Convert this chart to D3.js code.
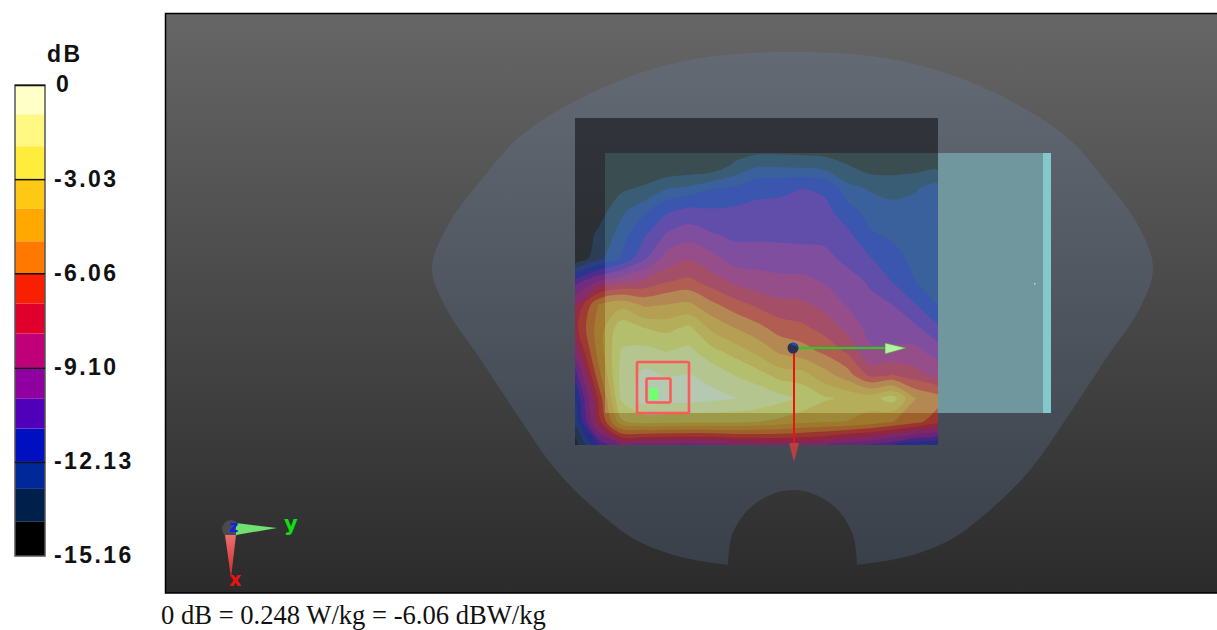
<!DOCTYPE html>
<html>
<head>
<meta charset="utf-8">
<script src="https://cdn.jsdelivr.net/npm/d3@7"></script>
<style>
  html, body { margin: 0; padding: 0; background: #fff; overflow: hidden; }
  .scale text { font: bold 23px "Liberation Sans", sans-serif; letter-spacing: 2.4px; fill: #111; }
</style>
</head>
<body>
<div id="chart"></div>
<script>
// colour bar
const bandEdges = [-16, -14.06, -13, -12.13, -11.06, -10.1, -9.1, -8, -7.03, -6.06, -5.03, -3.97, -3.03, -1.97, -0.94];
const bandColors = ['#000000', '#00204c', '#002898', '#0010c0', '#5000b8', '#9000a0', '#c00078', '#e0002c',
                    '#f82000', '#ff7800', '#ffa800', '#ffc814', '#ffec3c', '#fff882', '#ffffc8'];
const scaleTicks = [0, -3.03, -6.06, -9.10, -12.13, -15.16];
const scaleLabels = ['0', '-3.03', '-6.06', '-9.10', '-12.13', '-15.16'];

// field in dB, one row per scan line, top to bottom
const fieldCols = 17;
const fieldRows = 15;
const fieldDb = [
  -15.16,-15.16,-15.16,-15.16,-15.16,-15.16,-15.16,-15.16,-15.16,-15.16,-15.16,-15.16,-15.16,-15.16,-15.16,-15.16,-15.16,
  -15.16,-15.16,-15.16,-15.16,-15.16,-15.16,-15.16,-15.16,-15.16,-15.16,-15.16,-15.16,-15.16,-15.16,-15.16,-15.16,-15.16,
  -15.16,-15.16,-15.16,-15.16,-15.16,-15.00,-15.00,-13.90,-13.20,-13.20,-13.30,-13.50,-14.06,-14.70,-14.60,-14.60,-14.50,
  -15.16,-15.16,-14.30,-13.90,-13.10,-12.80,-12.20,-12.00,-11.40,-11.30,-11.06,-11.30,-12.70,-13.10,-13.40,-13.10,-12.60,
  -15.16,-14.60,-13.20,-12.30,-11.20,-10.70,-10.90,-10.80,-10.70,-10.70,-10.60,-10.70,-11.70,-12.50,-12.60,-12.60,-12.10,
  -15.16,-13.80,-12.60,-11.20,-10.00, -9.60,-10.00,-10.30,-10.30,-10.30,-10.30,-10.30,-10.80,-12.00,-12.30,-12.50,-12.50,
  -15.00,-13.30,-12.00,-10.30, -8.70, -8.10, -8.80, -9.60, -9.60, -9.70, -9.80, -9.90,-10.30,-11.00,-11.80,-12.40,-12.60,
  -10.50, -9.00, -8.30, -7.80, -7.10, -6.80, -7.50, -8.20, -8.60, -8.80, -8.80, -9.20, -9.80,-10.20,-11.10,-12.13,-12.50,
   -8.00, -5.00, -4.30, -5.20, -5.00, -4.80, -5.80, -6.60, -7.20, -7.70, -7.80, -8.30, -9.20, -9.90,-10.10,-11.00,-12.15,
   -7.30, -4.50, -2.40, -3.00, -3.30, -2.80, -4.20, -5.00, -5.70, -6.50, -6.80, -7.40, -8.30, -9.50, -9.60, -9.90,-10.80,
   -8.50, -4.60, -1.90, -1.60, -2.00, -1.70, -2.70, -3.40, -4.20, -5.20, -5.60, -6.30, -7.20, -8.90, -8.90, -8.80, -9.60,
  -10.50, -5.40, -1.60, -0.70, -1.00, -0.90, -1.20, -2.00, -2.60, -3.40, -3.60, -4.60, -5.60, -7.30, -7.00, -7.60, -8.40,
  -12.00, -6.80, -1.80, -0.40, -0.50, -0.50, -0.70, -0.90, -1.10, -1.60, -2.20, -2.90, -3.20, -3.40, -2.60, -5.00, -5.60,
  -12.60, -7.50, -3.20, -2.60, -2.70, -2.80, -2.80, -2.80, -3.00, -3.30, -3.70, -3.90, -4.00, -4.40, -5.00, -5.70, -6.70,
  -14.50,-11.00, -9.00, -9.30, -9.40, -9.50, -9.30, -9.00, -8.80, -8.60, -8.70, -9.00, -9.80,-10.20,-11.00,-12.00,-12.50
];

// phantom outline and hollow in page pixels
const outlineX = [857,905,950,990,1030,1070,1105,1140,1153,1138,1105,1070,1027,960,885,793,700,626,559,516,481,448,432,446,481,516,556,596,636,681,728];
const outlineY = [565,557,540,510,470,413,360,308,268,225,180,140,110,78,58,52,58,78,110,140,180,225,268,308,360,413,470,510,540,557,565];
const notchX = [728,732,750,775,793,811,836,853,857];
const notchY = [565,535,508,493,490,493,508,535,565];

const width = 1217, height = 630;
const plot = {left: 166, top: 14, right: 1217, bottom: 593};
const bar = {left: 15, right: 45, top: 85, bottom: 556};
const field = {left: 576, right: 938, top: 118, bottom: 445};

const svg = d3.select('#chart').append('svg').attr('width', width).attr('height', height).style('display', 'block');
const defs = svg.append('defs');

const bg = defs.append('linearGradient').attr('id', 'bg').attr('x1', 0).attr('y1', 0).attr('x2', 0).attr('y2', 1);
bg.append('stop').attr('offset', 0).attr('stop-color', '#666666');
bg.append('stop').attr('offset', 1).attr('stop-color', '#2b2b2b');

const redCone = defs.append('linearGradient').attr('id', 'red-cone').attr('x1', 0).attr('y1', 0).attr('x2', 0).attr('y2', 1);
redCone.append('stop').attr('offset', 0).attr('stop-color', '#e87070');
redCone.append('stop').attr('offset', 1).attr('stop-color', '#d02828');

defs.append('clipPath').attr('id', 'field-clip').append('rect')
    .attr('x', field.left - 1).attr('y', field.top)
    .attr('width', field.right - field.left + 1).attr('height', field.bottom - field.top);
defs.append('clipPath').attr('id', 'plot-clip').append('rect')
    .attr('x', plot.left).attr('y', plot.top)
    .attr('width', plot.right - plot.left).attr('height', plot.bottom - plot.top);

// colour bar
const yBar = d3.scaleLinear().domain([0, -15.16]).range([bar.top, bar.bottom]);
const scale = svg.append('g').attr('class', 'scale');

scale.selectAll('rect.band').data(bandColors).join('rect')
    .attr('class', 'band')
    .attr('x', bar.left).attr('width', bar.right - bar.left)
    .attr('y', (d, i) => i === bandEdges.length - 1 ? yBar(0) : yBar(bandEdges[i + 1]))
    .attr('height', (d, i) => {
      const hi = i === bandEdges.length - 1 ? 0 : bandEdges[i + 1];
      return yBar(Math.max(bandEdges[i], -15.16)) - yBar(hi);
    })
    .attr('fill', d => d);

scale.append('rect')
    .attr('x', bar.left).attr('y', bar.top)
    .attr('width', bar.right - bar.left).attr('height', bar.bottom - bar.top)
    .attr('fill', 'none').attr('stroke', '#555').attr('stroke-width', 1.5);

const barAxis = d3.axisRight(yBar)
    .tickValues(scaleTicks)
    .tickFormat((d, i) => scaleLabels[i])
    .tickSizeInner(-(bar.right - bar.left))
    .tickSizeOuter(0)
    .tickPadding(9);

const barAxisG = scale.append('g').attr('transform', 'translate(' + bar.right + ',0)').call(barAxis);
barAxisG.select('.domain').remove();
barAxisG.selectAll('line').attr('stroke', '#111').attr('stroke-width', 1.5);
barAxisG.selectAll('text').attr('dy', '0.3em');
barAxisG.selectAll('.tick').filter(d => d === 0).select('text').attr('x', 11);
barAxisG.selectAll('.tick').filter(d => d === -15.16).select('line').remove();

scale.append('text').attr('x', 47).attr('y', 62).text('dB');

// scene
const scene = svg.append('g').attr('clip-path', 'url(#plot-clip)');
scene.append('rect')
    .attr('x', plot.left).attr('y', plot.top)
    .attr('width', plot.right - plot.left).attr('height', plot.bottom - plot.top)
    .attr('fill', 'url(#bg)');

const xPage = d3.scaleIdentity(), yPage = d3.scaleIdentity();
const curve = d3.line().x(d => xPage(d[0])).y(d => yPage(d[1])).curve(d3.curveCatmullRom);
const outlinePath = curve(d3.zip(outlineX, outlineY));
const notchPath = curve(d3.zip(notchX, notchY)).replace(/^M/, 'L');
scene.append('path')
    .attr('d', outlinePath + notchPath + 'Z')
    .attr('fill', 'rgb(110,140,190)').attr('fill-opacity', 0.2);

// teal block sits under the field
scene.append('rect').attr('x', 605).attr('y', 153).attr('width', 446).attr('height', 260).attr('fill', '#70979e');
scene.append('rect').attr('x', 1043).attr('y', 153).attr('width', 8).attr('height', 260).attr('fill', '#85c8cc');
scene.append('rect').attr('x', 1034).attr('y', 283).attr('width', 1.5).attr('height', 1.5).attr('fill', '#a8e0e0');

// field contours, rings rounded off so the coarse grid does not show
const xField = d3.scaleLinear().domain([0.5, fieldCols - 0.5]).range([field.left, field.right]);
const yField = d3.scaleLinear().domain([0.5, fieldRows - 0.5]).range([field.top, field.bottom]);
const ringLine = d3.line().x(d => xField(d[0])).y(d => yField(d[1])).curve(d3.curveCatmullRomClosed.alpha(0.5));
const contours = d3.contours().size([fieldCols, fieldRows]).thresholds(bandEdges)(fieldDb);
const colorOf = d3.scaleThreshold().domain(bandEdges.slice(1)).range(bandColors);

scene.append('g').attr('clip-path', 'url(#field-clip)').attr('opacity', 0.48)
  .selectAll('path').data(contours).join('path')
    .attr('d', c => c.coordinates.map(poly => poly.map(ring => ringLine(ring.slice(0, -1))).join('')).join(''))
    .attr('fill', d => colorOf(d.value));

// peak markers
scene.append('rect').attr('x', 637).attr('y', 362).attr('width', 52).attr('height', 51)
    .attr('rx', 1.5).attr('fill', 'none').attr('stroke', '#ff5a5a').attr('stroke-width', 2.6);
scene.append('rect').attr('x', 646.5).attr('y', 378.5).attr('width', 24).attr('height', 24)
    .attr('rx', 1.5).attr('fill', 'none').attr('stroke', '#ff5a5a').attr('stroke-width', 2.6);
scene.append('rect').attr('x', 649).attr('y', 388).attr('width', 9).attr('height', 12).attr('fill', '#70ff70');

// local axes at the origin
scene.append('line').attr('x1', 793).attr('y1', 348).attr('x2', 900).attr('y2', 348).attr('stroke', '#20d020').attr('stroke-width', 2);
scene.append('polygon').attr('points', '885,343 906,348 885,354').attr('fill', '#b8f0a0').attr('stroke', '#40a040').attr('stroke-width', 0.6);
scene.append('line').attr('x1', 794).attr('y1', 348).attr('x2', 794).attr('y2', 445).attr('stroke', '#f01010').attr('stroke-width', 2);
scene.append('polygon').attr('points', '789,443 799,443 794,462').attr('fill', '#b84040');
scene.append('circle').attr('cx', 793).attr('cy', 348).attr('r', 5.5).attr('fill', '#2a3050');
scene.append('path').attr('d', 'M790,344a5,5 0 0 1 8,3z').attr('fill', '#3040d0');

// corner triad
scene.append('circle').attr('cx', 231).attr('cy', 529).attr('r', 9).attr('fill', '#4a4a4a');
scene.append('polygon').attr('points', '236,523 277,528 236,535').attr('fill', '#70e070');
scene.append('polygon').attr('points', '225,535 236,535 231,578').attr('fill', 'url(#red-cone)');
scene.append('text').attr('x', 229).attr('y', 532).attr('fill', '#1020f0')
    .style('font', 'bold 16px "DejaVu Sans", sans-serif').text('z');
scene.append('text').attr('x', 284).attr('y', 531).attr('fill', '#10e010')
    .style('font', 'bold 21px "DejaVu Sans", sans-serif').text('y');
scene.append('text').attr('x', 229).attr('y', 586).attr('fill', '#f01010')
    .style('font', 'bold 19px "DejaVu Sans", sans-serif').text('x');

svg.append('rect')
    .attr('x', plot.left - 0.5).attr('y', plot.top - 0.5)
    .attr('width', plot.right - plot.left + 2).attr('height', plot.bottom - plot.top + 0.5)
    .attr('fill', 'none').attr('stroke', '#000').attr('stroke-width', 1.5);

svg.append('text').attr('x', 161).attr('y', 623.5)
    .style('font', '26.6px "Liberation Serif", serif').attr('fill', '#111')
    .text('0 dB = 0.248 W/kg = -6.06 dBW/kg');
</script>
</body>
</html>
